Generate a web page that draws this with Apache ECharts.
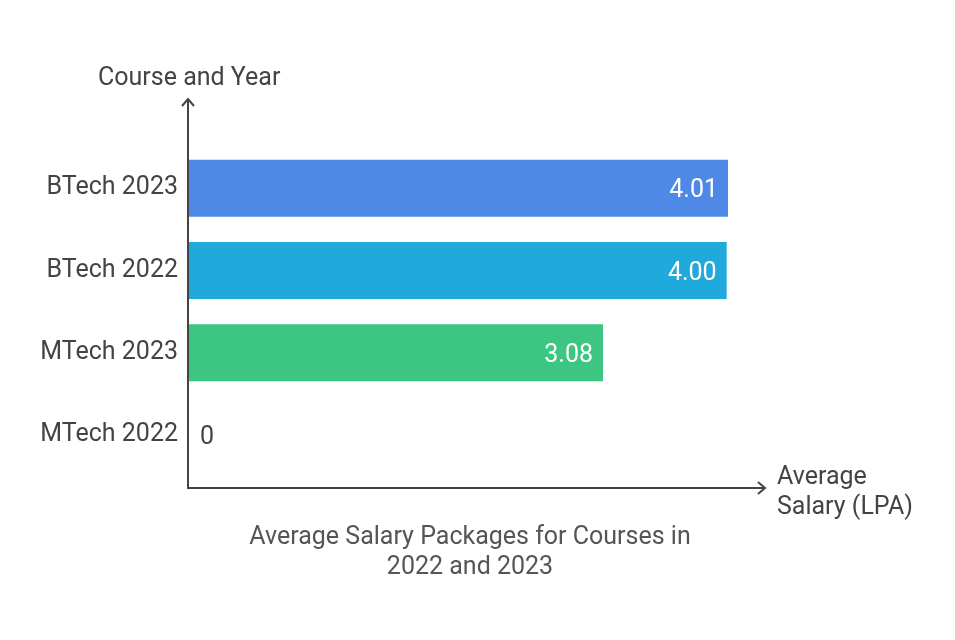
<!DOCTYPE html>
<html>
<head>
<meta charset="utf-8">
<script src="https://cdn.jsdelivr.net/npm/echarts@6/dist/echarts.min.js"></script>
<style>
  html, body { margin: 0; padding: 0; background: #fff; }
  #chart { width: 955px; height: 640px; }
</style>
</head>
<body>
<div id="chart"></div>
<script>
// bottom to top
const courses = ['MTech 2022', 'MTech 2023', 'BTech 2022', 'BTech 2023'];
const salaries = [0, 3.08, 4.00, 4.01];
const barColors = ['#3dc582', '#3dc582', '#20aadc', '#4e89e7'];

const textColor = '#444';
const font = 'Roboto, sans-serif';

const chart = echarts.init(document.getElementById('chart'));

const seriesData = salaries.map((v, i) => ({
  value: v,
  itemStyle: { color: barColors[i] },
  label: v === 0
    ? { position: 'right', color: textColor, distance: 11 }
    : { position: 'insideRight', color: '#fff', distance: 10 }
}));

chart.setOption({
  animation: false,
  grid: { left: 189, right: 188, top: 147, bottom: 164 },
  title: {
    text: 'Average Salary Packages for Courses in\n2022 and 2023',
    left: 465, top: 518, textAlign: 'center',
    textStyle: { fontFamily: font, fontSize: 25, fontWeight: 'normal', color: '#555', lineHeight: 30 }
  },
  xAxis: {
    type: 'value', min: 0, max: 4.3,
    axisLine: { show: false }, axisTick: { show: false },
    axisLabel: { show: false }, splitLine: { show: false }
  },
  yAxis: {
    type: 'category', data: courses,
    axisLine: { show: false }, axisTick: { show: false },
    axisLabel: { fontFamily: font, fontSize: 25, color: textColor, margin: 11, padding: [5, 0, 0, 0] }
  },
  series: [{
    type: 'bar',
    data: seriesData,
    barWidth: 57,
    label: {
      show: true, fontFamily: font, fontSize: 25, offset: [0, 3],
      formatter: p => p.value === 0 ? '0' : p.value.toFixed(2)
    }
  }],
  graphic: [
    // y axis with arrow
    { type: 'line', shape: { x1: 188, y1: 489, x2: 188, y2: 99 }, style: { stroke: '#444', lineWidth: 2 } },
    { type: 'polyline', shape: { points: [[182, 106], [188, 99], [194, 106]] }, style: { stroke: '#444', lineWidth: 2, fill: null } },
    // x axis with arrow
    { type: 'line', shape: { x1: 187, y1: 488, x2: 765, y2: 488 }, style: { stroke: '#444', lineWidth: 2 } },
    { type: 'polyline', shape: { points: [[758, 482], [765, 488], [758, 494]] }, style: { stroke: '#444', lineWidth: 2, fill: null } },
    { type: 'text', left: 98, top: 66, style: { text: 'Course and Year', font: '25px Roboto', fill: textColor } },
    { type: 'text', left: 777, top: 463, style: { text: 'Average\nSalary (LPA)', font: '25px Roboto', fill: textColor, lineHeight: 30 } }
  ]
});
</script>
</body>
</html>
